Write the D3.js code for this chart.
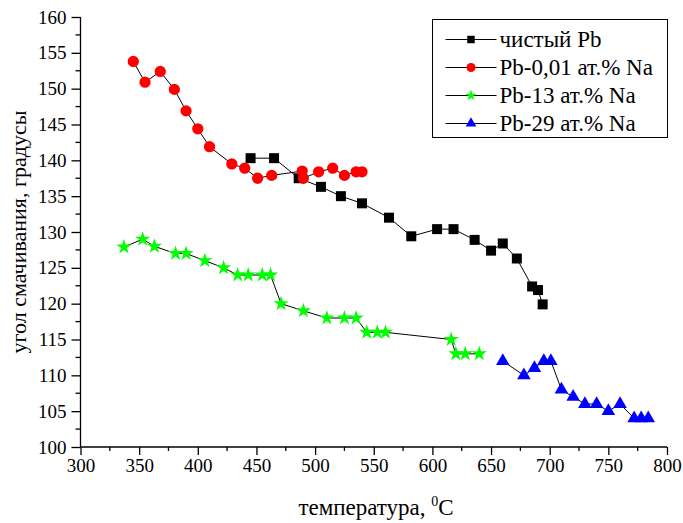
<!DOCTYPE html>
<html>
<meta charset="utf-8">
<head>
    <script src="https://d3js.org/d3.v7.min.js"></script>
    <style>
        body { margin: 0; background: #fff; }
        svg text { font-family: 'Liberation Serif', 'DejaVu Serif', serif !important; fill: #000; }
        .axis path, .axis line { stroke: #000; stroke-width: 1.3px; }
        .series-line { fill: none; stroke: #000; stroke-width: 1px; }
    </style>
</head>
<body>
    <div id="chart"></div>
    <script>
        // temperature (°C) and wetting angle (degrees) for each alloy
        const purePbT = [445, 465, 486, 505, 522, 540, 563, 582, 604, 618, 636, 650, 660, 672, 685, 690, 694];
        const purePbA = [140.3, 140.3, 137.5, 136.3, 135, 134, 132, 129.4, 130.4, 130.4, 128.9, 127.4, 128.4, 126.3, 122.4, 121.9, 119.9];

        const pb001T = [345, 355, 368, 380, 390, 400, 410, 429, 440, 451, 463, 489, 490, 503, 515, 525, 535, 540];
        const pb001A = [153.8, 150.9, 152.4, 149.9, 146.9, 144.4, 141.9, 139.5, 138.9, 137.5, 137.9, 138.5, 137.5, 138.4, 138.9, 137.9, 138.4, 138.4];

        const pb13T = [337, 353, 363, 381, 390, 406, 422, 434, 443, 455, 462, 471, 490, 510, 525, 535, 544, 553, 560, 616, 620, 628, 640];
        const pb13A = [127.9, 129, 128, 127, 127, 126, 125, 124, 124, 124, 124, 120, 119, 118, 118, 118, 116, 116, 116, 115, 113, 113, 113];

        const pb29T = [660, 678, 687, 695, 701, 710, 720, 730, 740, 750, 760, 772, 778, 784];
        const pb29A = [112, 110, 111, 112, 112, 108, 107, 106, 106, 105, 106, 104, 104, 104];

        const seriesNames = ["чистый Pb", "Pb-0,01 ат.% Na", "Pb-13 ат.% Na", "Pb-29 ат.% Na"];
        const xTicks = [300, 350, 400, 450, 500, 550, 600, 650, 700, 750, 800];
        const yTicks = [100, 105, 110, 115, 120, 125, 130, 135, 140, 145, 150, 155, 160];

        const width = 683, height = 523;
        const margin = { left: 80.5, right: 16, top: 17, bottom: 76 };
        const serif = "'Liberation Serif', 'DejaVu Serif', serif";

        const svg = d3.select("#chart").append("svg")
            .attr("width", width)
            .attr("height", height);

        const x = d3.scaleLinear().domain([300, 800]).range([margin.left, width - margin.right]);
        const y = d3.scaleLinear().domain([100, 160]).range([height - margin.bottom, margin.top]);

        const series = [
            { name: seriesNames[0], t: purePbT, a: purePbA, shape: d3.symbolSquare, size: 100, legSize: 56, color: "#000000" },
            { name: seriesNames[1], t: pb001T, a: pb001A, shape: d3.symbolCircle, size: 100, legSize: 64, color: "#ff0000" },
            { name: seriesNames[2], t: pb13T, a: pb13A, shape: d3.symbolStar, size: 72, legSize: 40, color: "#00ff00" },
            { name: seriesNames[3], t: pb29T, a: pb29A, shape: d3.symbolTriangle, size: 80, legSize: 50, color: "#0000ff" }
        ];

        // axes: major ticks outward, minor ticks half length
        const minorX = d3.range(325, 800, 50);
        const minorY = d3.range(102.5, 160, 5);

        const xAxis = svg.append("g")
            .attr("class", "axis")
            .attr("transform", `translate(0,${y(100)})`)
            .call(d3.axisBottom(x).tickValues(xTicks).tickSize(8).tickPadding(4).tickFormat(d3.format("d")));
        xAxis.attr("font-family", serif);
        xAxis.selectAll("text").style("font-size", "19px");
        xAxis.selectAll(".minor").data(minorX).enter().append("line")
            .attr("class", "minor")
            .attr("x1", d => x(d)).attr("x2", d => x(d))
            .attr("y1", 0).attr("y2", 4)
            .attr("stroke", "#000").attr("stroke-width", 1.3);

        const yAxis = svg.append("g")
            .attr("class", "axis")
            .attr("transform", `translate(${x(300)},0)`)
            .call(d3.axisLeft(y).tickValues(yTicks).tickSize(9).tickPadding(5).tickFormat(d3.format("d")));
        yAxis.attr("font-family", serif);
        yAxis.selectAll("text").style("font-size", "19px");
        yAxis.selectAll(".minor").data(minorY).enter().append("line")
            .attr("class", "minor")
            .attr("y1", d => y(d)).attr("y2", d => y(d))
            .attr("x1", 0).attr("x2", -5)
            .attr("stroke", "#000").attr("stroke-width", 1.3);
        xAxis.select(".domain").attr("d", `M${x(300)},0H${x(800)}`);
        yAxis.select(".domain").attr("d", `M0,${y(160)}V${y(100)}`);

        // axis titles
        const xTitle = svg.append("text")
            .attr("x", 376)
            .attr("y", 515)
            .attr("text-anchor", "middle")
            .style("font-family", serif)
            .style("font-size", "23px");
        xTitle.append("tspan").text("температура, ");
        xTitle.append("tspan").attr("dy", -9).style("font-size", "14px").text("0");
        xTitle.append("tspan").attr("dy", 9).text("C");

        svg.append("text")
            .attr("transform", `translate(26,${232}) rotate(-90)`)
            .attr("text-anchor", "middle")
            .style("font-family", serif)
            .style("font-size", "22px")
            .text("угол смачивания, градусы");

        // lines and markers
        const line = d3.line().x(d => x(d[0])).y(d => y(d[1]));

        series.forEach(s => {
            const pts = s.t.map((t, i) => [t, s.a[i]]);
            svg.append("path")
                .datum(pts)
                .attr("class", "series-line")
                .attr("d", line);
        });

        series.forEach(s => {
            const pts = s.t.map((t, i) => [t, s.a[i]]);
            svg.append("g")
                .selectAll("path")
                .data(pts)
                .enter().append("path")
                .attr("transform", d => `translate(${x(d[0])},${y(d[1])})`)
                .attr("d", d3.symbol().type(s.shape).size(s.size))
                .attr("fill", s.color);
        });

        // legend
        const legend = svg.append("g").attr("transform", "translate(432.5,19.5)");
        legend.append("rect")
            .attr("width", 235)
            .attr("height", 118)
            .attr("fill", "#fff")
            .attr("stroke", "#000")
            .attr("stroke-width", 1);

        series.forEach((s, i) => {
            const row = legend.append("g").attr("transform", `translate(0,${20 + i * 28})`);
            row.append("line")
                .attr("x1", 13).attr("x2", 64)
                .attr("y1", 0).attr("y2", 0)
                .attr("stroke", "#000").attr("stroke-width", 1);
            row.append("path")
                .attr("transform", "translate(38.5,0)")
                .attr("d", d3.symbol().type(s.shape).size(s.legSize))
                .attr("fill", s.color);
            row.append("text")
                .attr("x", 67)
                .attr("y", 7)
                .style("font-family", serif)
                .style("font-size", "23px")
                .text(s.name);
        });
    </script>
</body>
</html>
